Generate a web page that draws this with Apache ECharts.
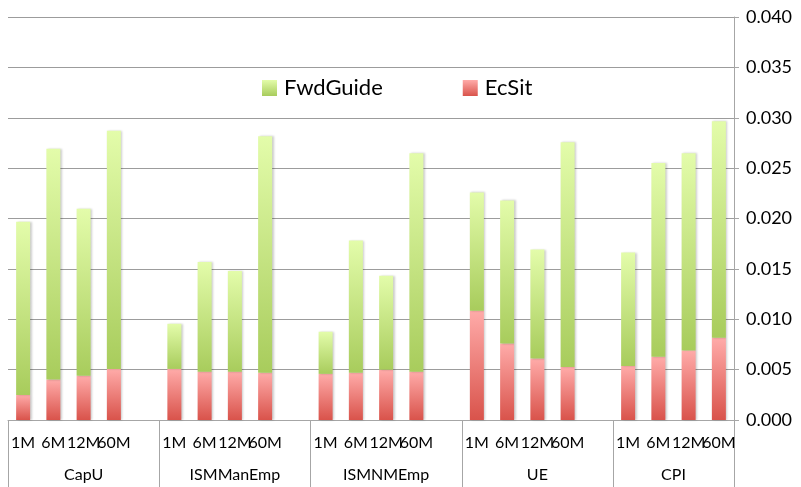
<!DOCTYPE html>
<html>
<head>
<meta charset="utf-8">
<script src="https://cdn.jsdelivr.net/npm/echarts@6/dist/echarts.min.js"></script>
<style>
  html, body { margin: 0; padding: 0; background: #fff; }
  #chart { width: 801px; height: 487px; }
</style>
</head>
<body>
<div id="chart"></div>
<script>
var groups = ['CapU', 'ISMManEmp', 'ISMNMEmp', 'UE', 'CPI'];
var horizons = ['1M', '6M', '12M', '60M'];
// per group, in horizon order
var ecSit = [
  [0.00249, 0.00401, 0.00438, 0.00507],
  [0.00507, 0.00480, 0.00480, 0.00468],
  [0.00458, 0.00468, 0.00500, 0.00480],
  [0.01085, 0.00759, 0.00610, 0.00527],
  [0.00537, 0.00627, 0.00690, 0.00816]
];
var fwdGuide = [
  [0.01718, 0.02292, 0.01658, 0.02365],
  [0.00448, 0.01089, 0.01000, 0.02348],
  [0.00418, 0.01313, 0.00933, 0.02167],
  [0.01174, 0.01420, 0.01082, 0.02229],
  [0.01125, 0.01923, 0.01957, 0.02149]
];
var yTicks = ['0.000', '0.005', '0.010', '0.015', '0.020', '0.025', '0.030', '0.035', '0.040'];

// flatten with an empty slot between groups
var slots = [], ecData = [], fwdData = [];
groups.forEach(function (g, gi) {
  horizons.forEach(function (h, hi) {
    slots.push(h);
    ecData.push(ecSit[gi][hi]);
    fwdData.push(fwdGuide[gi][hi]);
  });
  if (gi < groups.length - 1) {
    slots.push('');
    ecData.push('-');
    fwdData.push('-');
  }
});

// half-slot axis for the group labels and the long separators
var halfCount = slots.length * 2 + 1;
var halfData = [], boundaryIdx = {}, labelIdx = {};
for (var i = 0; i < halfCount; i++) halfData.push('');
var start = 0;
groups.forEach(function (g, gi) {
  var len = gi < groups.length - 1 ? 5 : 4;
  boundaryIdx[start * 2] = true;
  var c = start * 2 + len;
  halfData[c] = g;
  labelIdx[c] = true;
  start += len;
});
boundaryIdx[slots.length * 2] = true;

function grad(top, bottom) {
  return new echarts.graphic.LinearGradient(0, 0, 0, 1, [
    { offset: 0, color: top },
    { offset: 1, color: bottom }
  ]);
}

var font = 'Lato, "Open Sans", sans-serif';
var chart = echarts.init(document.getElementById('chart'), null, { renderer: 'canvas' });
chart.setOption({
  animation: false,
  backgroundColor: '#fff',
  textStyle: { fontFamily: font, color: '#000' },
  grid: { left: 8, right: 67, top: 17, bottom: 67 },
  legend: {
    data: ['FwdGuide', 'EcSit'],
    icon: 'rect',
    left: 257,
    top: 72,
    itemWidth: 15,
    itemHeight: 16,
    itemGap: 80,
    textStyle: { fontSize: 22, fontFamily: font, color: '#000', padding: [0, 0, 0, 2] }
  },
  xAxis: [{
    type: 'category',
    data: slots,
    position: 'bottom',
    axisLine: { lineStyle: { color: '#a6a6a6' } },
    axisTick: { interval: 0, length: 33, lineStyle: { color: '#a6a6a6' } },
    axisLabel: { interval: 0, fontSize: 16, margin: 15, color: '#000', hideOverlap: false }
  }, {
    type: 'category',
    data: halfData,
    boundaryGap: false,
    position: 'bottom',
    offset: 0,
    axisLine: { show: false },
    axisTick: {
      interval: function (idx) { return !!boundaryIdx[idx]; },
      length: 67,
      lineStyle: { color: '#a6a6a6' }
    },
    axisLabel: {
      interval: function (idx) { return !!labelIdx[idx]; },
      fontSize: 16, margin: 47, color: '#000'
    }
  }],
  yAxis: {
    type: 'value',
    position: 'right',
    min: 0,
    max: 0.04,
    interval: 0.005,
    axisLine: { show: true, lineStyle: { color: '#a6a6a6' } },
    axisTick: { show: true, length: 5, lineStyle: { color: '#a6a6a6' } },
    splitLine: { lineStyle: { color: '#9c9c9c' } },
    axisLabel: {
      fontSize: 18, margin: 12, color: '#000',
      formatter: function (v) { return yTicks[Math.round(v / 0.005)]; }
    }
  },
  series: [{
    name: 'EcSit',
    type: 'bar',
    stack: 'total',
    xAxisIndex: 0,
    barWidth: 14,
    data: ecData,
    itemStyle: {
      color: grad('#ffaba9', '#d9534b'),
      shadowColor: 'rgba(0,0,0,0.2)', shadowBlur: 2, shadowOffsetX: 1.5
    }
  }, {
    name: 'FwdGuide',
    type: 'bar',
    stack: 'total',
    xAxisIndex: 0,
    barWidth: 14,
    data: fwdData,
    itemStyle: {
      color: grad('#e3fcaa', '#a8cc5c'),
      shadowColor: 'rgba(0,0,0,0.2)', shadowBlur: 2, shadowOffsetX: 1.5
    }
  }]
});
</script>
</body>
</html>
